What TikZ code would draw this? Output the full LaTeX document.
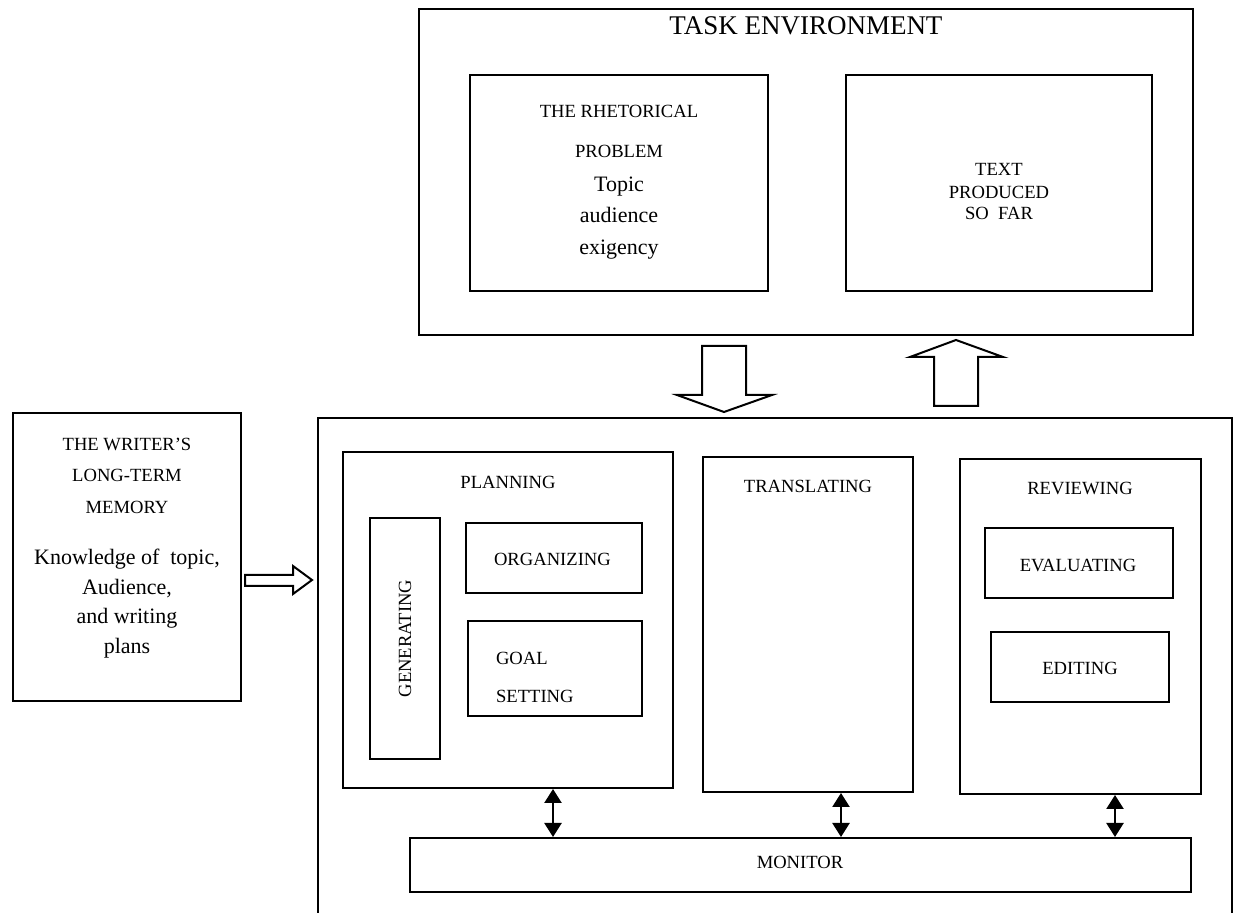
\documentclass[tikz,border=0pt]{standalone}
\usepackage{fontspec}
\setmainfont{Liberation Serif}
\usetikzlibrary{arrows.meta}

\tikzset{
  box/.style={draw, line width=1pt, inner sep=0pt},
  outerbox/.style={draw, line width=1.3pt, inner sep=0pt},
  caps/.style={font=\fontsize{9.3}{11}\selectfont, anchor=base},
  words/.style={font=\fontsize{11}{13}\selectfont, anchor=base},
  twoway/.style={line width=1.2pt, {Triangle[length=7pt,width=8.5pt]}-{Triangle[length=7pt,width=8.5pt]}},
  fat/.style={draw, line width=1pt, line join=miter},
}

\begin{document}
\begin{tikzpicture}[x=0.5pt,y=-0.5pt]
			\useasboundingbox (0,0) rectangle (1238,913);

			\node[outerbox, minimum width=387pt, minimum height=163pt] (task) at (806,172) {}; % Task environment
			\node[font=\fontsize{13.5}{16}\selectfont, anchor=base] (tasklbl) at (806,35) {TASK ENVIRONMENT};

			\node[box, minimum width=149pt, minimum height=108pt] (rhet) at (619,183) {}; % Rhetorical problem
			\node[caps] (rhet1) at (619,118) {THE RHETORICAL};
			\node[caps] (rhet2) at (619,158) {PROBLEM};
			\node[words] (rhet3) at (619,192) {Topic};
			\node[words] (rhet4) at (619,223) {audience};
			\node[words] (rhet5) at (619,255) {exigency};

			\node[box, minimum width=153pt, minimum height=108pt] (sofar) at (999,183) {}; % Text produced so far
			\node[caps] (sofar1) at (999,176) {TEXT};
			\node[caps] (sofar2) at (999,199) {PRODUCED};
			\node[caps] (sofar3) at (999,220) {SO\ \ FAR};

			\draw[fat] (702,346) -- (746,346) -- (746,395) -- (772,395) -- (724,412) -- (677,395) -- (702,395) -- cycle; % Arrow down
			\draw[fat] (934,406) -- (978,406) -- (978,357) -- (1003,357) -- (956,340) -- (910,357) -- (934,357) -- cycle; % Arrow up

			\node[outerbox, minimum width=114pt, minimum height=144pt] (memory) at (127,557) {}; % Long-term memory
			\node[caps] (mem1) at (127,451) {THE WRITER'S};
			\node[caps] (mem2) at (127,482) {LONG-TERM};
			\node[caps] (mem3) at (127,514) {MEMORY};
			\node[words] (mem4) at (127,565) {Knowledge of\ \ topic,};
			\node[words] (mem5) at (127,595) {Audience,};
			\node[words] (mem6) at (127,624) {and writing};
			\node[words] (mem7) at (127,654) {plans};

			\draw[fat] (245,575) -- (293,575) -- (293,566) -- (312,580) -- (293,594) -- (293,586) -- (245,586) -- cycle; % Arrow right

			\draw[line width=1.3pt] (318,913) |- (1232,418) -- (1232,913); % Writer (open at the bottom)

			\node[box, minimum width=165pt, minimum height=168pt] (planning) at (508,620) {}; % Planning
			\node[caps] (plantxt) at (508,489) {PLANNING};
			\node[box, minimum width=35pt, minimum height=120.5pt] (generating) at (405,638.5) {};
			\node[caps, rotate=90, anchor=center] (gentxt) at (generating) {GENERATING};
			\node[box, minimum width=88pt, minimum height=35pt] (organizing) at (554,558) {};
			\node[caps, anchor=base west] (orgtxt) at (487,566) {ORGANIZING};
			\node[box, minimum width=87pt, minimum height=47.5pt] (goals) at (555,668.5) {};
			\node[caps, anchor=base west] (goal1) at (489,665) {GOAL};
			\node[caps, anchor=base west] (goal2) at (489,703) {SETTING};

			\node[box, minimum width=105pt, minimum height=167.5pt] (translating) at (808,624.5) {}; % Translating
			\node[caps] (transtxt) at (808,493) {TRANSLATING};

			\node[box, minimum width=120.5pt, minimum height=167.5pt] (reviewing) at (1080.5,626.5) {}; % Reviewing
			\node[caps] (revtxt) at (1080,495) {REVIEWING};
			\node[box, minimum width=94pt, minimum height=35pt] (evaluating) at (1079,563) {};
			\node[caps] (evaltxt) at (1078,572) {EVALUATING};
			\node[box, minimum width=89pt, minimum height=35pt] (editing) at (1080,667) {};
			\node[caps] (edittxt) at (1080,675) {EDITING};

			\node[box, minimum width=390.5pt, minimum height=27pt] (monitor) at (800.5,865) {}; % Monitor
			\node[caps] (montxt) at (800,869) {MONITOR};

			\draw[twoway] (planning.south) ++(45,0) coordinate (p1) -- (p1 |- monitor.north);
			\draw[twoway] (translating.south) ++(33,0) coordinate (p2) -- (p2 |- monitor.north);
			\draw[twoway] (reviewing.south) ++(34.5,0) coordinate (p3) -- (p3 |- monitor.north);
		\end{tikzpicture}
\end{document}
